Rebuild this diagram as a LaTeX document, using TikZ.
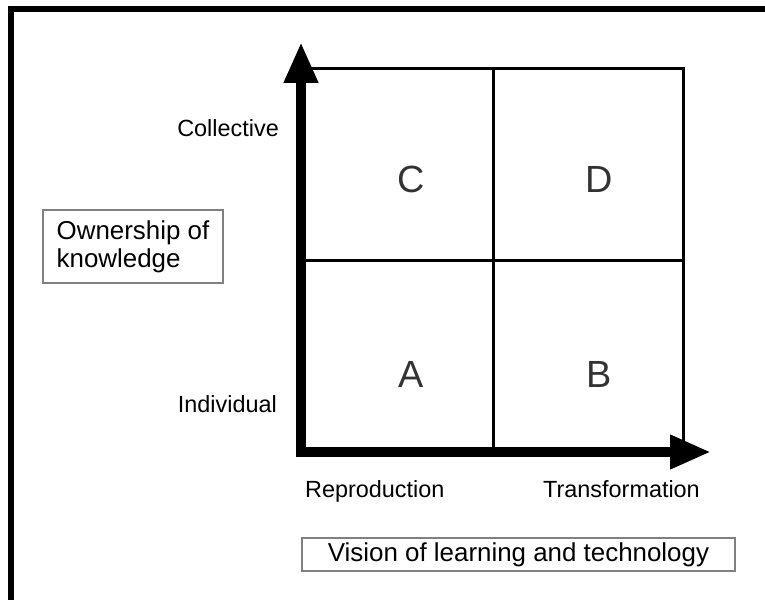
\documentclass[tikz,border=0pt]{standalone}
\usepackage{fontspec}
\setmainfont{Liberation Sans}
\usetikzlibrary{arrows.meta}
\begin{document}
\begin{tikzpicture}[x=1bp,y=-1bp,
  gridline/.style={draw=black,line width=3bp},
  axis/.style={line width=10bp,-{Triangle[length=41bp,width=32bp]}},
  frame/.style={line width=6bp,miter limit=10},
  letter/.style={font=\fontsize{38}{40}\selectfont,text=black!80,inner sep=0pt},
  axislabel/.style={font=\fontsize{23.5}{28}\selectfont,inner sep=0pt},
  titlebox/.style={draw=black!50,line width=2bp,font=\fontsize{26}{28}\selectfont,inner sep=0pt,align=left}]
  \useasboundingbox (0,0) rectangle (765,600);
  % outer frame (top and left edges)
  \draw[frame] (11,600) -- (11,9) -- (770,9);
  % quadrant grid
  \coordinate (ll) at (301,452);
  \coordinate (ur) at (683,69);
  \draw[gridline] (ll) rectangle (ur);
  \draw[gridline] (493,69) -- (493,452);
  \draw[gridline] (301,260) -- (683,260);
  % quadrant letters
  \node[letter] (C) at (411,179) {C};
  \node[letter] (D) at (599,179) {D};
  \node[letter] (A) at (411,374) {A};
  \node[letter] (B) at (599,374) {B};
  % axes
  \coordinate (origin) at (301,457);
  \coordinate (ytip) at (301,42);
  \coordinate (xorigin) at (296,452);
  \coordinate (xtip) at (711,452);
  \draw[axis] (origin) -- (ytip);
  \draw[axis] (xorigin) -- (xtip);
  % axis labels
  \node[axislabel,anchor=base east] (coll) at (279,137) {Collective};
  \node[axislabel,anchor=base east] (indiv) at (277,412) {Individual};
  \node[axislabel,anchor=base west] (repro) at (305,497) {Reproduction};
  \node[axislabel,anchor=base west] (trans) at (543,497) {Transformation};
  % axis titles
  \node[titlebox,minimum width=180bp,minimum height=73bp] (own) at (133,246.5)
    {Ownership of\\knowledge};
  \node[titlebox,minimum width=433bp,minimum height=33bp] (vision) at (518.5,554.5)
    {Vision of learning and technology};
\end{tikzpicture}
\end{document}
